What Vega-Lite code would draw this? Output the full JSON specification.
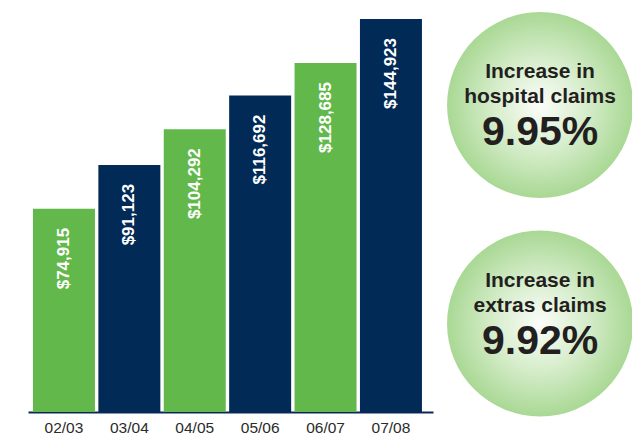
{
  "$schema": "https://vega.github.io/schema/vega-lite/v6.json",
  "padding": {"left": 28, "top": 10, "right": 0, "bottom": 0},
  "background": "white",
  "config": {"view": {"stroke": null}, "concat": {"spacing": 0}},
  "datasets": {
    "bars": [
      {"period": "02/03", "claims": 74915},
      {"period": "03/04", "claims": 91123},
      {"period": "04/05", "claims": 104292},
      {"period": "05/06", "claims": 116692},
      {"period": "06/07", "claims": 128685},
      {"period": "07/08", "claims": 144923}
    ],
    "circles": [
      {"metric": "hospital", "line1": "Increase in", "line2": "hospital claims", "pct": "9.95%"},
      {"metric": "extras", "line1": "Increase in", "line2": "extras claims", "pct": "9.92%"}
    ]
  },
  "hconcat": [
    {
      "width": 405,
      "height": 402,
      "data": {"name": "bars"},
      "encoding": {
        "x": {
          "field": "period", "type": "ordinal", "sort": null,
          "scale": {"paddingInner": 0.052, "paddingOuter": 0.1225, "align": 0.31},
          "axis": {"title": null, "labelAngle": 0, "ticks": false, "tickSize": 0, "labelPadding": 8,
                   "labelFont": "Liberation Sans", "labelFontSize": 15.5, "labelColor": "#2b2b2b",
                   "domainColor": "#0a2a55", "domainWidth": 2, "grid": false}
        },
        "y": {"field": "claims", "type": "quantitative", "scale": {"domain": [0, 148242], "nice": false}, "axis": null}
      },
      "layer": [
        {
          "mark": {"type": "bar"},
          "encoding": {
            "color": {"field": "period", "type": "nominal", "sort": null,
                      "scale": {"range": ["#62b84b", "#012a56", "#62b84b", "#012a56", "#62b84b", "#012a56"]},
                      "legend": null}
          }
        },
        {
          "mark": {"type": "text", "angle": 270, "align": "right", "baseline": "middle", "dx": -19,
                   "font": "Liberation Sans", "fontWeight": "bold", "fontSize": 17, "color": "#ffffff"},
          "encoding": {"text": {"field": "claims", "type": "quantitative", "format": "$,d"}}
        }
      ]
    },
    {
      "width": 199,
      "height": 402,
      "data": {"name": "circles"},
      "encoding": {
        "x": {"datum": "c", "type": "nominal", "scale": {"type": "point", "align": 0.538}, "axis": null}
      },
      "layer": [
        {
          "mark": {"type": "point", "shape": "circle", "filled": true, "size": 34596, "opacity": 1, "strokeWidth": 0,
                   "fill": {"gradient": "radial", "stops": [
                     {"offset": 0, "color": "#fbfdf9"},
                     {"offset": 0.5, "color": "#d6edcb"},
                     {"offset": 1, "color": "#a9d894"}]}},
          "encoding": {
            "y": {"field": "metric", "type": "nominal", "sort": null, "scale": {"type": "point", "padding": 0.42, "align": 0.518}, "axis": null}
          }
        },
        {
          "mark": {"type": "text", "align": "center", "baseline": "middle", "dy": -25,
                   "font": "Liberation Sans", "fontWeight": "bold", "fontSize": 21, "color": "#231f20"},
          "encoding": {
            "y": {"field": "metric", "type": "nominal", "sort": null, "scale": {"type": "point", "padding": 0.4617, "align": 0.451}, "axis": null},
            "text": {"field": "line1"}
          }
        },
        {
          "mark": {"type": "text", "align": "center", "baseline": "middle", "dy": 0,
                   "font": "Liberation Sans", "fontWeight": "bold", "fontSize": 21, "color": "#231f20"},
          "encoding": {
            "y": {"field": "metric", "type": "nominal", "sort": null, "scale": {"type": "point", "padding": 0.4617, "align": 0.451}, "axis": null},
            "text": {"field": "line2"}
          }
        },
        {
          "mark": {"type": "text", "align": "center", "baseline": "middle", "dy": 36,
                   "font": "Liberation Sans", "fontWeight": "bold", "fontSize": 41, "color": "#231f20"},
          "encoding": {
            "y": {"field": "metric", "type": "nominal", "sort": null, "scale": {"type": "point", "padding": 0.4617, "align": 0.451}, "axis": null},
            "text": {"field": "pct"}
          }
        }
      ],
      "resolve": {"scale": {"y": "independent"}}
    }
  ]
}
